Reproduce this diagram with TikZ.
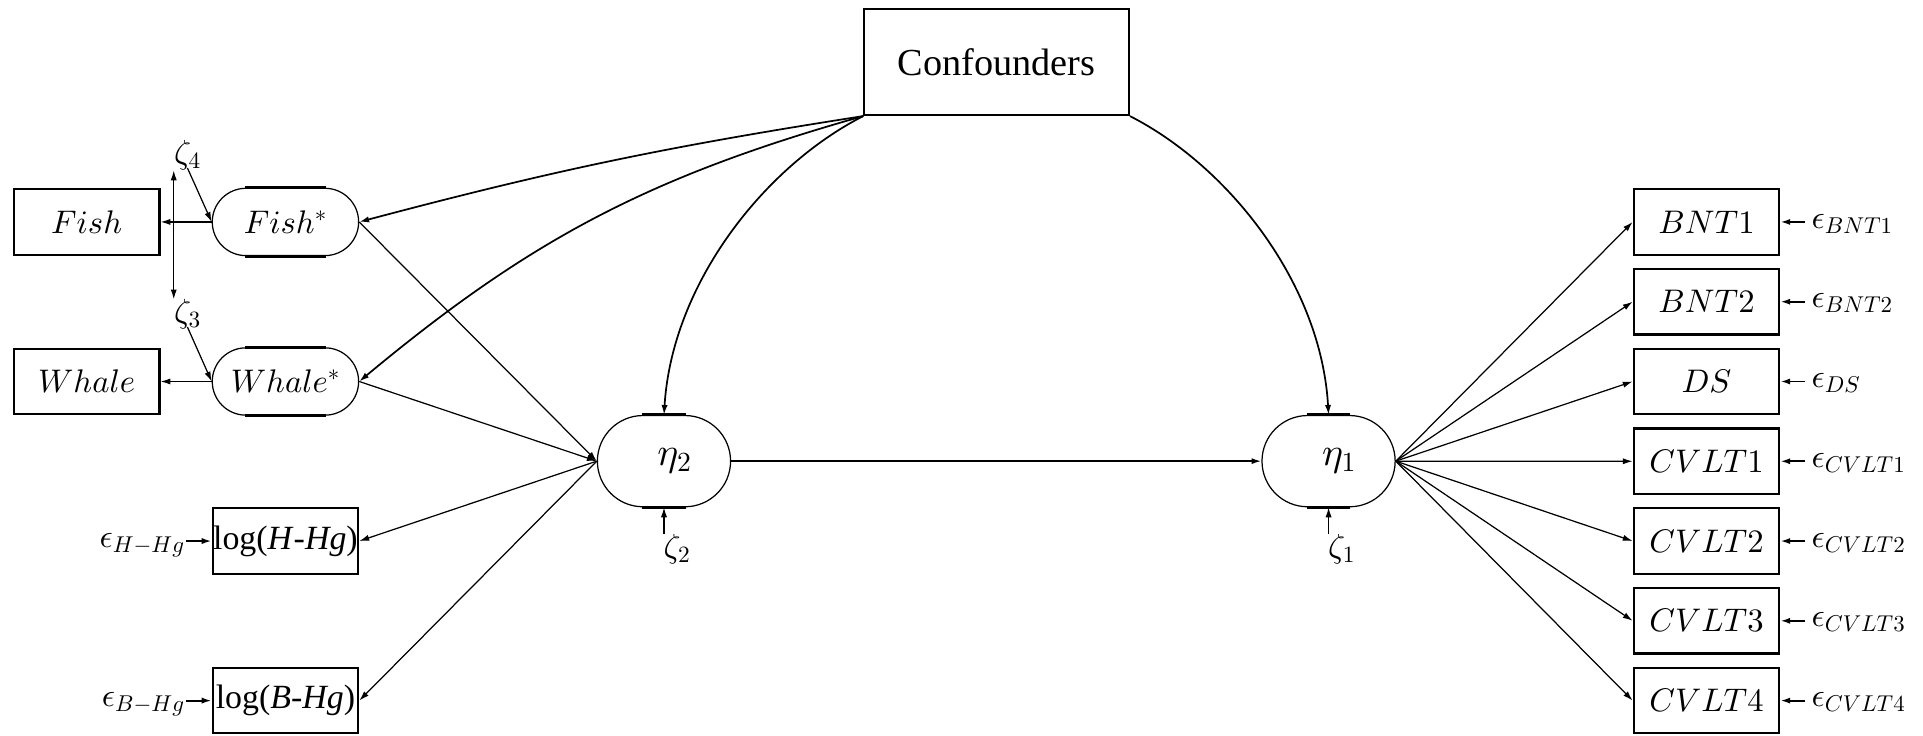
\RequirePackage{fix-cm}
\documentclass[tikz,border=0pt]{standalone}
\usepackage[no-math]{fontspec}
\newfontfamily\tms{Liberation Serif}
\usetikzlibrary{arrows.meta,calc}
\DeclareFontShape{OML}{cmm}{m}{it}{<-> cmmi10}{}
\DeclareFontShape{OT1}{cmr}{m}{n}{<-> cmr10}{}
\DeclareFontShape{OMS}{cmsy}{m}{n}{<-> cmsy10}{}
\begin{document}
\begin{tikzpicture}[x=1pt,y=-1pt,
  >={Latex[length=8pt,width=5pt]},
  mfont/.style={font=\fontsize{26.5}{31}\selectfont},
  obs/.style={draw, line width=1.8pt, minimum width=118pt, minimum height=53pt, inner sep=0pt, mfont},
  lat/.style={draw, line width=1pt, rounded corners=27.3pt, minimum width=118.7pt, minimum height=54.6pt, inner sep=0pt, mfont},
  eta/.style={draw, line width=1pt, rounded corners=37pt, minimum width=108pt, minimum height=74pt, inner sep=0pt, font=\fontsize{32}{36}\selectfont},
  lbl/.style={inner sep=0pt, font=\fontsize{27}{31}\selectfont},
  elbl/.style={inner ysep=0pt, inner xsep=1pt, mfont},
  flat/.style={line width=2.4pt},
  conn/.style={->, line width=1pt},
  econn/.style={->, line width=1.5pt},
  curve/.style={->, line width=1.4pt}]
\useasboundingbox (0,0) rectangle (1559.6,596.9);

% top
\node[draw, line width=1.3pt, minimum width=215pt, minimum height=86pt, inner sep=0pt,
      font=\fontsize{31}{36}\selectfont\tms] (conf) at (808.25,50.5) {Confounders};

% left side
\node[obs] (fish)  at (70.3,180) {$Fish$};
\node[obs] (whale) at (70.3,309.4) {$Whale$};
\node[lat] (fishs)  at (231.5,180) {$Fish^*$};
\node[lat] (whales) at (231.5,309.4) {$Whale^*$};
\node[obs, font=\fontsize{27.5}{32}\selectfont\tms] (logH) at (231.5,438.8) {log(\textit{H}-\textit{Hg})};
\node[obs, font=\fontsize{27.5}{32}\selectfont\tms] (logB) at (231.5,568.2) {log(\textit{B}-\textit{Hg})};

\node[lbl] (z4) at (152,126) {$\zeta_4$};
\node[lbl] (z3) at (152,255) {$\zeta_3$};

\node[elbl, anchor=base east] (eH) at (151,443.8) {$\epsilon_{H-Hg}$};
\node[elbl, anchor=base east] (eB) at (151,573.2) {$\epsilon_{B-Hg}$};

% latent
\node[eta] (eta2) at (538.5,374) {\hspace*{17pt}\raisebox{-4pt}{$\eta_2$}};
\node[eta] (eta1) at (1077.5,374) {\hspace*{17pt}\raisebox{-4pt}{$\eta_1$}};
\node[lbl, anchor=north west] (z2) at (538,433) {$\zeta_2$};
\node[lbl, anchor=north west] (z1) at (1077,433) {$\zeta_1$};

% right side
\node[obs] (bnt1)  at (1384,180)   {$BNT1$};
\node[obs] (bnt2)  at (1384,244.7) {$BNT2$};
\node[obs] (ds)    at (1384,309.4) {$DS$};
\node[obs] (cvlt1) at (1384,374.1) {$CVLT1$};
\node[obs] (cvlt2) at (1384,438.8) {$CVLT2$};
\node[obs] (cvlt3) at (1384,503.5) {$CVLT3$};
\node[obs] (cvlt4) at (1384,568.2) {$CVLT4$};

\node[elbl, anchor=base west, inner xsep=5pt] (ebnt1)  at (1464,185)   {$\epsilon_{BNT1}$};
\node[elbl, anchor=base west, inner xsep=5pt] (ebnt2)  at (1464,249.7) {$\epsilon_{BNT2}$};
\node[elbl, anchor=base west, inner xsep=5pt] (eds)    at (1464,314.4) {$\epsilon_{DS}$};
\node[elbl, anchor=base west, inner xsep=5pt] (ecvlt1) at (1464,379.1) {$\epsilon_{CVLT1}$};
\node[elbl, anchor=base west, inner xsep=5pt] (ecvlt2) at (1464,443.8) {$\epsilon_{CVLT2}$};
\node[elbl, anchor=base west, inner xsep=5pt] (ecvlt3) at (1464,508.5) {$\epsilon_{CVLT3}$};
\node[elbl, anchor=base west, inner xsep=5pt] (ecvlt4) at (1464,573.2) {$\epsilon_{CVLT4}$};

% thick flat parts of latent ovals
\foreach \n/\s in {fishs/27.3pt, whales/27.3pt, eta2/37pt, eta1/37pt}{
  \draw[flat] ([xshift=\s]\n.north west) -- ([xshift=-\s]\n.north east);
  \draw[flat] ([xshift=\s]\n.south west) -- ([xshift=-\s]\n.south east);
}

% connectors
\draw[conn] (fishs.west) -- (fish.east);
\draw[conn] (whales.west) -- (whale.east);
\draw[conn] ([yshift=2pt]z4.south) -- (fishs.west);
\draw[conn] ([yshift=2pt]z3.south) -- (whales.west);
\draw[conn, <->] (z4.south west) -- (z3.north west);

\draw[curve] (conf.south west) to[bend right=3] (fishs.east);
\draw[curve] (conf.south west) to[bend right=12] (whales.east);
\draw[curve] (conf.south west) .. controls (620,135) and (545,230) .. (eta2.north);
\draw[curve] (conf.south east) .. controls (996.5,135) and (1071.5,230) .. (eta1.north);

\draw[conn] (fishs.east) -- (eta2.west);
\draw[conn] (whales.east) -- (eta2.west);
\draw[conn] (eta2.west) -- (logH.east);
\draw[conn] (eta2.west) -- (logB.east);
\draw[econn] (logH.west -| eH.east) -- (logH.west);
\draw[econn] (logB.west -| eB.east) -- (logB.west);

\draw[curve] (eta2.east) -- (eta1.west);
\draw[conn] (eta2.south |- z2.north) -- (eta2.south);
\draw[conn] (eta1.south |- z1.north) -- (eta1.south);

\foreach \b in {bnt1,bnt2,ds,cvlt1,cvlt2,cvlt3,cvlt4}{
  \draw[conn] (eta1.east) -- (\b.west);
  \draw[econn] (\b.east -| e\b.west) -- (\b.east);
}
\end{tikzpicture}
\end{document}
